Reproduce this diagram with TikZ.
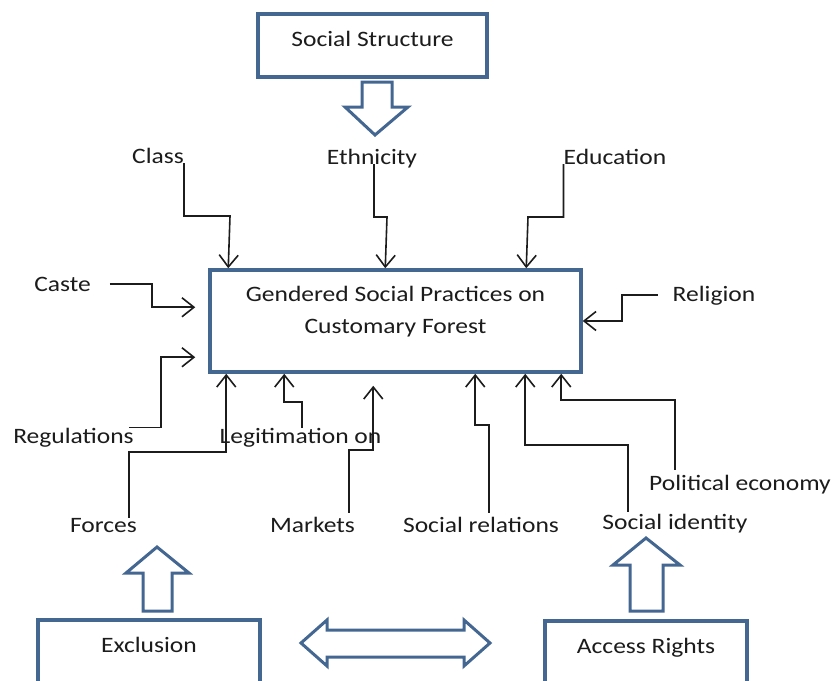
\documentclass[tikz,border=0pt]{standalone}
\usepackage{fontspec}
\setmainfont{Carlito}[FakeStretch=1.16]
\usetikzlibrary{arrows.meta,calc}
\definecolor{frameblue}{RGB}{68,103,146}
\definecolor{inkgray}{RGB}{28,28,28}
\tikzset{
  factor/.style={font=\fontsize{22}{26}\selectfont, text=inkgray, inner sep=0pt},
  frame/.style={draw=frameblue, line width=3.5pt, fill=white, font=\fontsize{22}{32}\selectfont, text=inkgray, inner xsep=0pt},
  feed/.style={draw=inkgray, line width=1.6pt, -{Straight Barb[length=12pt,width=19pt,line width=1.6pt]}},
  hollow/.style={draw=frameblue, line width=3pt, fill=white, line join=miter},
}
\begin{document}
\begin{tikzpicture}[x=1pt, y=-1pt]
\clip (0,0) rectangle (835,680);
\fill[white] (0,0) rectangle (835,680);
% boxes
\node[frame, anchor=base, minimum width=229pt, text height=18pt, text depth=17pt, inner ysep=14pt] (structure) at (372.5,46) {Social Structure};
\node[frame, anchor=base, minimum width=371pt, text height=59pt, text depth=35pt, inner ysep=4pt, align=center] (box) at (395.5,333) {Gendered Social Practices on\\Customary Forest};
\node[frame, anchor=base, minimum width=222pt, text height=16pt, text depth=40pt, inner ysep=16pt] (exclusion) at (149,652) {Exclusion};
\node[frame, anchor=base, minimum width=202pt, text height=16pt, text depth=40pt, inner ysep=16pt] (access) at (646,653) {Access Rights};
% labels
\node[factor, anchor=base] (class) at (158,163) {Class};
\node[factor, anchor=base] (ethnicity) at (372,164) {Ethnicity};
\node[factor, anchor=base] (education) at (615,164) {Education};
\node[factor, anchor=base] (caste) at (62.5,291) {Caste};
\node[factor, anchor=base] (religion) at (714,301) {Religion};
\node[factor, anchor=base] (regulations) at (73.5,443) {Regulations};
\node[factor, anchor=base] (legitimation) at (300.5,443) {Legitimation on};
\node[factor, anchor=base] (political) at (740,490) {Political economy};
\node[factor, anchor=base] (forces) at (103.5,532) {Forces};
\node[factor, anchor=base] (markets) at (312.5,532) {Markets};
\node[factor, anchor=base] (relations) at (481,532) {Social relations};
\node[factor, anchor=base] (identity) at (675,529) {Social identity};
% arrows from above
\draw[feed] (class.base east) |- (230,216) -- ($(box.north west)+(20,0)$);
\draw[feed] ([xshift=2pt]ethnicity.base) |- (387,217) -- ($(box.north west)+(177,0)$);
\draw[feed] (education.base west) |- (528,217) -- ($(box.north west)+(318,0)$);
% arrows from the sides
\draw[feed] ([xshift=-15pt]religion.west) -| ($(box.east)+(39,0)$) -- (box.east);
\draw[feed] ([xshift=19pt]caste.east) -| ($(box.north west)+(-56,39)$) -- ($(box.north west)+(-13,39)$);
\draw[feed] ([xshift=-5pt]regulations.north east) -| ($(box.north west)+(-47,89)$) -- ($(box.north west)+(-13,89)$);
% arrows from below
\draw[feed] ([xshift=-8pt]forces.north east) |- ($(box.south west)+(18,78)$) -- ($(box.south west)+(18,0)$);
\draw[feed] ([xshift=1.5pt]legitimation.north) |- ($(box.south west)+(76,28)$) -- ($(box.south west)+(76,0)$);
\draw[feed] ([shift={(-6pt,4pt)}]markets.north east) |- ($(box.south west)+(165,76)$) -- ($(box.south west)+(165,12)$);
\draw[feed] ([shift={(8pt,4pt)}]relations.north) |- ($(box.south west)+(267,51)$) -- ($(box.south west)+(267,0)$);
\draw[feed] ([shift={(-47pt,2pt)}]identity.north) |- ($(box.south west)+(317,71)$) -- ($(box.south west)+(317,0)$);
\draw[feed] ([shift={(26pt,5pt)}]political.north west) |- ($(box.south west)+(353,26)$) -- ($(box.south west)+(353,0)$);
% hollow block arrows
\draw[hollow] (362,82) -- (392,82) -- (392,107) -- (408,107) -- (375,135) -- (345,107) -- (362,107) -- cycle;
\draw[hollow] (143,611) -- (172,611) -- (172,573) -- (189,573) -- (157,547) -- (126,573) -- (143,573) -- cycle;
\draw[hollow] (630,611) -- (663,611) -- (663,565) -- (680,565) -- (646,538) -- (613,565) -- (630,565) -- cycle;
\draw[hollow] (301,643) -- (327,620) -- (327,630) -- (464,630) -- (464,620) -- (490,643) -- (464,666) -- (464,657) -- (327,657) -- (327,666) -- cycle;
\end{tikzpicture}
\end{document}
